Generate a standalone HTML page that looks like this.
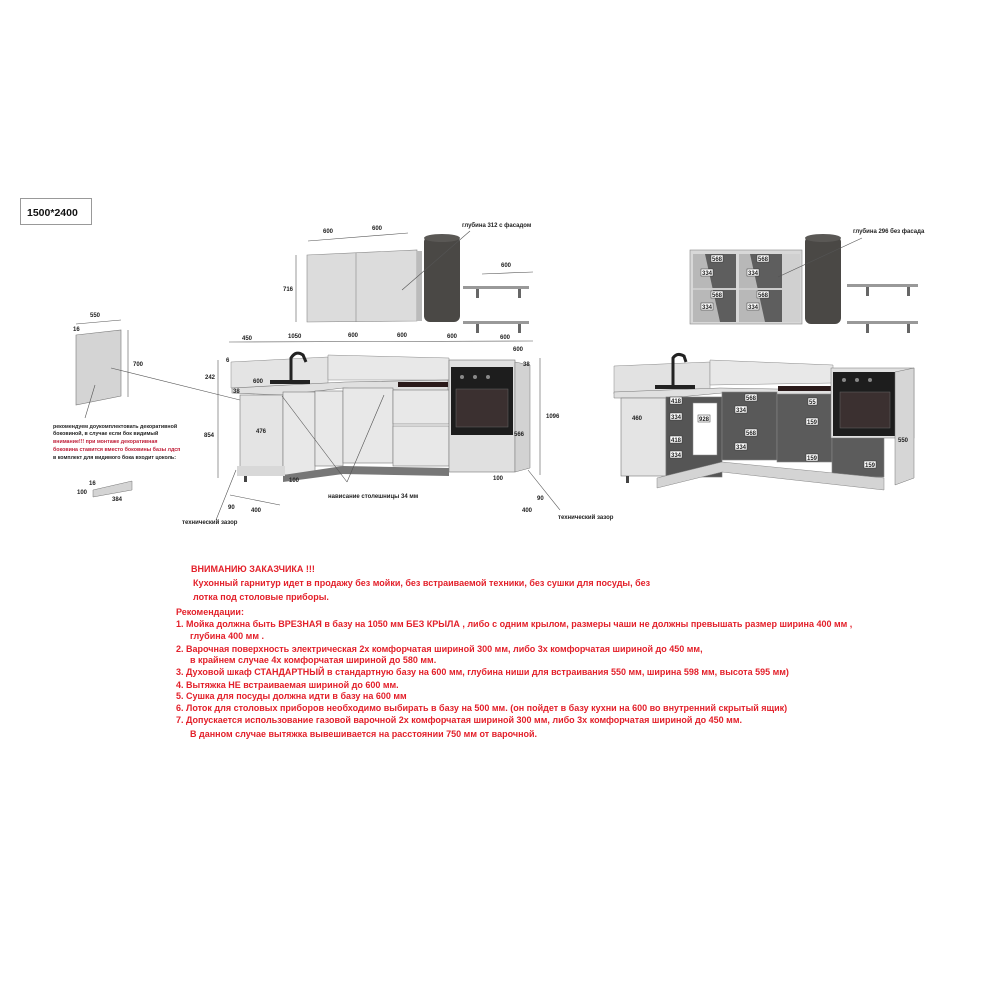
<!DOCTYPE html>
<html><head><meta charset="utf-8"><style>
body{margin:0;background:#fff;}
svg{display:block}
text{font-family:"Liberation Sans","DejaVu Sans",sans-serif;font-weight:bold}
.r{fill:#e3202a;font-size:9px}
.d{fill:#222;font-size:6px}
.dl{stroke:#555;stroke-width:0.6;fill:none}
.lb{fill:#fff;stroke:#333;stroke-width:0.5}
</style></head><body>
<svg width="1000" height="1000" viewBox="0 0 1000 1000" xmlns="http://www.w3.org/2000/svg">
<rect width="1000" height="1000" fill="#fff"/>
<!-- title box -->
<rect x="20.5" y="198.5" width="71" height="26" fill="#fff" stroke="#999"/>
<text x="27" y="216" font-size="10.5" fill="#111">1500*2400</text>

<!-- left side panel -->
<polygon points="76,335 121,330 121,396 76,405" fill="#d4d4d4" stroke="#777" stroke-width="0.6"/>
<text x="90" y="317" class="d">550</text><text x="73" y="331" class="d" font-size="5">16</text>
<line x1="76" y1="324" x2="121" y2="320" class="dl"/>
<line x1="128" y1="330" x2="128" y2="397" class="dl"/>
<text x="133" y="366" class="d">700</text>
<line x1="111" y1="368" x2="240" y2="400" class="dl"/>
<line x1="95" y1="385" x2="85" y2="418" class="dl"/>
<text x="53" y="428" font-size="5.3" fill="#222">рекомендуем доукомплектовать декоративной</text>
<text x="53" y="435" font-size="5.3" fill="#222">боковиной, в случае если бок видимый</text>
<text x="53" y="443" font-size="5.3" fill="#c0203a">внимание!!! при монтаже декоративная</text>
<text x="53" y="451" font-size="5.3" fill="#c0203a">боковина ставится вместо боковины базы лдсп</text>
<text x="53" y="459" font-size="5.3" fill="#222">в комплект для видимого бока входит цоколь:</text>
<polygon points="93,490 132,481 132,490 93,497" fill="#d4d4d4" stroke="#777" stroke-width="0.5"/>
<text x="89" y="485" class="d" font-size="5">16</text><text x="77" y="494" class="d" font-size="5">100</text><text x="112" y="501" class="d" font-size="5">384</text>

<!-- upper wall cabinets left -->
<polygon points="307,255 417,250 417,321 307,322" fill="#dcdcdc" stroke="#888" stroke-width="0.6"/>
<line x1="356" y1="253" x2="356" y2="322" stroke="#888" stroke-width="0.6"/>
<rect x="417" y="251" width="5" height="70" fill="#bbb"/>
<rect x="424" y="236" width="36" height="86" rx="6" fill="#4a4845"/>
<ellipse cx="442" cy="238" rx="18" ry="4" fill="#5a5855"/>
<line x1="308" y1="241" x2="408" y2="233" class="dl"/>
<text x="323" y="233" class="d">600</text><text x="372" y="230" class="d">600</text>
<line x1="296" y1="255" x2="296" y2="322" class="dl"/>
<text x="283" y="291" class="d">716</text>
<text x="462" y="227" class="d" font-size="5.5">глубина 312 с фасадом</text>
<line x1="470" y1="231" x2="402" y2="290" class="dl"/>
<text x="501" y="267" class="d">600</text>
<line x1="482" y1="274" x2="533" y2="272" class="dl"/>
<rect x="463" y="286" width="66" height="3" fill="#999"/>
<rect x="476" y="289" width="3" height="9" fill="#666"/><rect x="518" y="289" width="3" height="9" fill="#666"/>
<rect x="463" y="321" width="66" height="3" fill="#999"/>
<rect x="476" y="324" width="3" height="9" fill="#666"/><rect x="518" y="324" width="3" height="9" fill="#666"/>

<!-- left kitchen -->
<line x1="229" y1="342" x2="533" y2="341" class="dl"/>
<text x="242" y="340" class="d">450</text><text x="288" y="338" class="d">1050</text><text x="348" y="337" class="d">600</text><text x="397" y="337" class="d">600</text><text x="447" y="338" class="d">600</text><text x="500" y="339" class="d">600</text>
<text x="513" y="351" class="d">600</text>
<polygon points="231,362 328,357 328,385 231,388" fill="#e4e4e4" stroke="#888" stroke-width="0.5"/>
<polygon points="328,355 449,358 449,380 328,380" fill="#e8e8e8" stroke="#888" stroke-width="0.5"/>
<polygon points="232,388 345,382 448,380 448,392 343,388 283,395 232,393" fill="#e0e0e0" stroke="#777" stroke-width="0.6"/>
<rect x="270" y="380" width="40" height="4" fill="#222"/>
<path d="M291,382 L291,358 Q296,350 303,355 L306,362" stroke="#222" stroke-width="3" fill="none"/>
<rect x="398" y="382" width="50" height="5" fill="#2a1a1a"/>
<rect x="240" y="395" width="43" height="72" fill="#e4e4e4" stroke="#777" stroke-width="0.6"/>
<rect x="283" y="392" width="32" height="83" fill="#e8e8e8" stroke="#777" stroke-width="0.6"/>
<rect x="315" y="391" width="28" height="75" fill="#e8e8e8" stroke="#777" stroke-width="0.6"/>
<rect x="343" y="388" width="50" height="75" fill="#e8e8e8" stroke="#777" stroke-width="0.6"/>
<rect x="393" y="390" width="56" height="34" fill="#e8e8e8" stroke="#777" stroke-width="0.6"/>
<rect x="393" y="426" width="56" height="40" fill="#e8e8e8" stroke="#777" stroke-width="0.6"/>
<polygon points="283,475 343,466 449,468 449,476 343,474 283,482" fill="#777"/>
<rect x="449" y="360" width="66" height="112" fill="#e0e0e0" stroke="#777" stroke-width="0.6"/>
<polygon points="515,362 530,365 530,468 515,472" fill="#d2d2d2" stroke="#777" stroke-width="0.5"/>
<rect x="451" y="367" width="62" height="68" fill="#1d1d1d"/>
<rect x="456" y="389" width="52" height="38" fill="#3b3030" stroke="#666" stroke-width="0.5"/>
<circle cx="462" cy="377" r="2" fill="#888"/><circle cx="475" cy="377" r="2" fill="#888"/><circle cx="488" cy="377" r="2" fill="#888"/>
<rect x="237" y="466" width="48" height="10" fill="#d8d8d8"/>
<rect x="244" y="476" width="3" height="6" fill="#444"/>
<text x="226" y="362" class="d">6</text><text x="205" y="379" class="d">242</text>
<text x="253" y="383" class="d">600</text><text x="233" y="393" class="d">38</text>
<text x="204" y="437" class="d">854</text><text x="256" y="433" class="d">476</text>
<text x="289" y="482" class="d">100</text><text x="493" y="480" class="d">100</text>
<text x="514" y="436" class="d">566</text><text x="523" y="366" class="d">38</text>
<text x="546" y="418" class="d">1096</text>
<line x1="218" y1="360" x2="218" y2="478" class="dl"/>
<line x1="540" y1="358" x2="540" y2="475" class="dl"/>
<line x1="282" y1="396" x2="347" y2="482" class="dl"/><line x1="384" y1="395" x2="347" y2="482" class="dl"/>
<text x="328" y="498" class="d" font-size="5.5">нависание столешницы 34 мм</text>
<text x="228" y="509" class="d">90</text><text x="251" y="512" class="d">400</text>
<line x1="230" y1="495" x2="280" y2="505" class="dl"/>
<line x1="216" y1="520" x2="236" y2="470" class="dl"/>
<text x="182" y="524" class="d" font-size="5.5">технический зазор</text>
<text x="537" y="500" class="d">90</text><text x="522" y="512" class="d">400</text>
<line x1="528" y1="470" x2="560" y2="510" class="dl"/>
<text x="558" y="519" class="d" font-size="5.5">технический зазор</text>

<!-- right upper cabinets -->
<rect x="690" y="250" width="112" height="74" fill="#d8d8d8" stroke="#888" stroke-width="0.6"/>
<rect x="693" y="254" width="43" height="68" fill="#5e5e5e"/>
<rect x="739" y="254" width="43" height="68" fill="#5e5e5e"/>
<polygon points="693,254 705,254 720,322 693,322" fill="#b8b8b8"/>
<polygon points="739,254 750,254 765,322 739,322" fill="#b8b8b8"/>
<rect x="693" y="288" width="43" height="2" fill="#ccc"/><rect x="739" y="288" width="43" height="2" fill="#ccc"/>
<rect x="782" y="254" width="18" height="68" fill="#d0d0d0"/>
<g font-size="5.5"><rect x="711" y="255" width="12" height="7" class="lb"/><text x="712" y="261" class="d">568</text>
<rect x="757" y="255" width="12" height="7" class="lb"/><text x="758" y="261" class="d">568</text>
<rect x="701" y="269" width="12" height="7" class="lb"/><text x="702" y="275" class="d">334</text>
<rect x="747" y="269" width="12" height="7" class="lb"/><text x="748" y="275" class="d">334</text>
<rect x="711" y="291" width="12" height="7" class="lb"/><text x="712" y="297" class="d">568</text>
<rect x="757" y="291" width="12" height="7" class="lb"/><text x="758" y="297" class="d">568</text>
<rect x="701" y="303" width="12" height="7" class="lb"/><text x="702" y="309" class="d">334</text>
<rect x="747" y="303" width="12" height="7" class="lb"/><text x="748" y="309" class="d">334</text></g>
<rect x="805" y="236" width="36" height="88" rx="6" fill="#4a4845"/>
<ellipse cx="823" cy="238" rx="18" ry="4" fill="#5a5855"/>
<text x="853" y="233" class="d" font-size="5.5">глубина 296 без фасада</text>
<line x1="862" y1="238" x2="778" y2="277" class="dl"/>
<rect x="847" y="284" width="71" height="3" fill="#999"/>
<rect x="866" y="287" width="3" height="9" fill="#666"/><rect x="907" y="287" width="3" height="9" fill="#666"/>
<rect x="847" y="321" width="71" height="3" fill="#999"/>
<rect x="866" y="324" width="3" height="9" fill="#666"/><rect x="907" y="324" width="3" height="9" fill="#666"/>

<!-- right kitchen -->
<polygon points="614,366 710,362 710,390 614,394" fill="#e2e2e2" stroke="#888" stroke-width="0.5"/>
<polygon points="710,360 833,365 833,383 710,385" fill="#e8e8e8" stroke="#888" stroke-width="0.5"/>
<polygon points="614,392 720,388 833,390 833,396 722,393 668,398 614,398" fill="#e0e0e0" stroke="#777" stroke-width="0.5"/>
<rect x="655" y="385" width="40" height="4" fill="#222"/>
<path d="M673,387 L673,358 Q677,352 684,356 L686,362" stroke="#222" stroke-width="3" fill="none"/>
<rect x="778" y="386" width="54" height="5" fill="#2a1a1a"/>
<rect x="621" y="398" width="45" height="78" fill="#e4e4e4" stroke="#777" stroke-width="0.6"/>
<rect x="666" y="397" width="56" height="80" fill="#555" stroke="#777" stroke-width="0.6"/>
<rect x="693" y="403" width="24" height="52" fill="#fff" stroke="#888" stroke-width="0.5"/>
<rect x="722" y="392" width="55" height="68" fill="#595959" stroke="#888" stroke-width="0.6"/>
<rect x="777" y="394" width="55" height="68" fill="#5b5b5b" stroke="#888" stroke-width="0.6"/>
<rect x="832" y="435" width="52" height="42" fill="#5c5c5c" stroke="#888" stroke-width="0.6"/>
<rect x="831" y="368" width="83" height="70" fill="#e0e0e0" stroke="#777" stroke-width="0.5"/>
<rect x="833" y="372" width="62" height="64" fill="#1d1d1d"/>
<rect x="840" y="392" width="50" height="36" fill="#3b3030" stroke="#666" stroke-width="0.5"/>
<circle cx="844" cy="380" r="2" fill="#888"/><circle cx="857" cy="380" r="2" fill="#888"/><circle cx="870" cy="380" r="2" fill="#888"/>
<polygon points="895,372 914,368 914,478 895,485" fill="#d6d6d6" stroke="#777" stroke-width="0.5"/>
<polygon points="657,478 722,462 884,478 884,490 722,472 657,488" fill="#d4d4d4" stroke="#888" stroke-width="0.5"/>
<rect x="626" y="476" width="3" height="7" fill="#444"/>
<g font-size="5.5"><rect x="670" y="397" width="12" height="7" class="lb"/><text x="671" y="403" class="d">418</text>
<rect x="670" y="413" width="12" height="7" class="lb"/><text x="671" y="419" class="d">334</text>
<rect x="670" y="436" width="12" height="7" class="lb"/><text x="671" y="442" class="d">418</text>
<rect x="670" y="451" width="12" height="7" class="lb"/><text x="671" y="457" class="d">334</text>
<rect x="698" y="415" width="12" height="7" class="lb"/><text x="699" y="421" class="d">928</text>
<rect x="745" y="394" width="12" height="7" class="lb"/><text x="746" y="400" class="d">568</text>
<rect x="735" y="406" width="12" height="7" class="lb"/><text x="736" y="412" class="d">334</text>
<rect x="745" y="429" width="12" height="7" class="lb"/><text x="746" y="435" class="d">568</text>
<rect x="735" y="443" width="12" height="7" class="lb"/><text x="736" y="449" class="d">334</text>
<rect x="808" y="398" width="9" height="7" class="lb"/><text x="809" y="404" class="d">55</text>
<rect x="806" y="418" width="12" height="7" class="lb"/><text x="807" y="424" class="d">159</text>
<rect x="806" y="454" width="12" height="7" class="lb"/><text x="807" y="460" class="d">159</text>
<rect x="864" y="461" width="12" height="7" class="lb"/><text x="865" y="467" class="d">159</text></g>
<text x="632" y="420" class="d">460</text><text x="898" y="442" class="d">550</text>

<!-- red notes -->
<text x="191" y="572" class="r">ВНИМАНИЮ ЗАКАЗЧИКА !!!</text>
<text x="193" y="586" class="r">Кухонный гарнитур идет в продажу без мойки, без встраиваемой техники, без сушки для посуды, без</text>
<text x="193" y="600" class="r">лотка под столовые приборы.</text>
<text x="176" y="615" class="r">Рекомендации:</text>
<text x="176" y="627" class="r">1.  Мойка должна быть ВРЕЗНАЯ в базу на 1050 мм БЕЗ КРЫЛА , либо с одним крылом, размеры чаши  не должны превышать размер ширина  400  мм ,</text>
<text x="190" y="639" class="r">глубина  400 мм .</text>
<text x="176" y="652" class="r">2.  Варочная поверхность электрическая 2х комфорчатая  шириной 300 мм, либо 3х комфорчатая шириной до 450 мм,</text>
<text x="190" y="663" class="r">в крайнем случае 4х комфорчатая шириной до 580 мм.</text>
<text x="176" y="675" class="r">3.  Духовой шкаф СТАНДАРТНЫЙ в стандартную базу на 600 мм, глубина ниши для встраивания 550 мм, ширина 598 мм, высота 595 мм)</text>
<text x="176" y="688" class="r">4.  Вытяжка НЕ встраиваемая шириной до 600 мм.</text>
<text x="176" y="699" class="r">5.  Сушка для посуды должна идти в базу на 600 мм</text>
<text x="176" y="711" class="r">6.  Лоток для столовых приборов необходимо выбирать в базу на 500 мм. (он пойдет в базу кухни на 600 во внутренний скрытый ящик)</text>
<text x="176" y="723" class="r">7.  Допускается использование газовой варочной 2х комфорчатая  шириной  300 мм,  либо 3х комфорчатая шириной до 450 мм.</text>
<text x="190" y="737" class="r">В данном случае вытяжка вывешивается на расстоянии 750 мм от варочной.</text>
</svg>
</body></html>
